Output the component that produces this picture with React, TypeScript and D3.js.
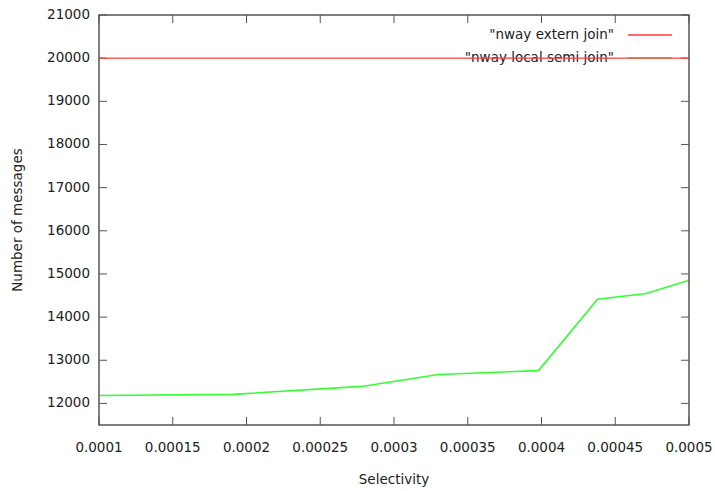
import * as d3 from 'd3';
import { useEffect, useRef } from 'react';

// series
const selectivity = [0.0001, 0.000191, 0.000278, 0.00033, 0.000398, 0.000438, 0.000471, 0.0005];
const localSemiJoin = [12185, 12210, 12394, 12670, 12760, 14413, 14545, 14855];
const externJoin = [20000, 20000];
const externX = [0.0001, 0.0005];

const xTicks = [0.0001, 0.00015, 0.0002, 0.00025, 0.0003, 0.00035, 0.0004, 0.00045, 0.0005];
const yTicks = [12000, 13000, 14000, 15000, 16000, 17000, 18000, 19000, 20000, 21000];

const seriesNames = ['"nway extern join"', '"nway local semi join"'];
const seriesColors = ['#ff3b3b', '#33ff33'];

export default function App() {
  const width = 715;
  const height = 491;
  const margin = { top: 15, right: 26, bottom: 66, left: 99 };
  const ref = useRef<SVGSVGElement>(null);

  useEffect(() => {
    const svg = d3.select(ref.current);
    svg.selectAll('*').remove();

    const x = d3
      .scaleLinear()
      .domain([0.0001, 0.0005])
      .range([margin.left, width - margin.right]);
    const y = d3
      .scaleLinear()
      .domain([11500, 21000])
      .range([height - margin.bottom, margin.top]);

    const font = 'DejaVu Sans, sans-serif';
    const axisColor = '#555';
    const tickLen = 8;

    const g = svg.append('g');

    // ticks on all four sides, pointing inward
    xTicks.forEach((t) => {
      g.append('line')
        .attr('x1', x(t)).attr('x2', x(t))
        .attr('y1', y.range()[0]).attr('y2', y.range()[0] - tickLen)
        .attr('stroke', axisColor);
      g.append('line')
        .attr('x1', x(t)).attr('x2', x(t))
        .attr('y1', y.range()[1]).attr('y2', y.range()[1] + tickLen)
        .attr('stroke', axisColor);
      g.append('text')
        .attr('x', x(t))
        .attr('y', y.range()[0] + 23)
        .attr('text-anchor', 'middle')
        .attr('dominant-baseline', 'middle')
        .attr('font-family', font)
        .attr('font-size', 13.5)
        .attr('fill', '#222')
        .text(String(t));
    });

    yTicks.forEach((t) => {
      g.append('line')
        .attr('x1', x.range()[0]).attr('x2', x.range()[0] + tickLen)
        .attr('y1', y(t)).attr('y2', y(t))
        .attr('stroke', axisColor);
      g.append('line')
        .attr('x1', x.range()[1]).attr('x2', x.range()[1] - tickLen)
        .attr('y1', y(t)).attr('y2', y(t))
        .attr('stroke', axisColor);
      g.append('text')
        .attr('x', x.range()[0] - 9)
        .attr('y', y(t))
        .attr('text-anchor', 'end')
        .attr('dominant-baseline', 'middle')
        .attr('font-family', font)
        .attr('font-size', 13.5)
        .attr('fill', '#222')
        .text(String(t));
    });

    // axis titles
    g.append('text')
      .attr('x', (x.range()[0] + x.range()[1]) / 2)
      .attr('y', 480)
      .attr('text-anchor', 'middle')
      .attr('dominant-baseline', 'middle')
      .attr('font-family', font)
      .attr('font-size', 13.5)
      .attr('fill', '#222')
      .text('Selectivity');

    g.append('text')
      .attr('transform', `translate(18,${(y.range()[0] + y.range()[1]) / 2}) rotate(-90)`)
      .attr('text-anchor', 'middle')
      .attr('dominant-baseline', 'middle')
      .attr('font-family', font)
      .attr('font-size', 13.5)
      .attr('fill', '#222')
      .text('Number of messages');

    // legend
    const legendY = [35, 58];
    seriesNames.forEach((name, i) => {
      g.append('text')
        .attr('x', 614)
        .attr('y', legendY[i])
        .attr('text-anchor', 'end')
        .attr('dominant-baseline', 'middle')
        .attr('font-family', font)
        .attr('font-size', 13.5)
        .attr('fill', '#222')
        .text(name);
      g.append('line')
        .attr('x1', 628).attr('x2', 672)
        .attr('y1', legendY[i]).attr('y2', legendY[i])
        .attr('stroke', seriesColors[i])
        .attr('stroke-width', 1.5);
    });

    const line = d3
      .line<[number, number]>()
      .x((d) => x(d[0]))
      .y((d) => y(d[1]));

    g.append('path')
      .datum(selectivity.map((s, i) => [s, localSemiJoin[i]] as [number, number]))
      .attr('d', line)
      .attr('fill', 'none')
      .attr('stroke', seriesColors[1])
      .attr('stroke-width', 1.6);

    g.append('path')
      .datum(externX.map((s, i) => [s, externJoin[i]] as [number, number]))
      .attr('d', line)
      .attr('fill', 'none')
      .attr('stroke', seriesColors[0])
      .attr('stroke-width', 1.4);

    // frame (top, bottom, left, right)
    g.append('rect')
      .attr('x', x.range()[0])
      .attr('y', y.range()[1])
      .attr('width', x.range()[1] - x.range()[0])
      .attr('height', y.range()[0] - y.range()[1])
      .attr('fill', 'none')
      .attr('stroke', axisColor)
      .attr('stroke-width', 1.5);
  }, []);

  return (
    <svg
      ref={ref}
      width={width}
      height={height}
      style={{ position: 'absolute', left: 0, top: 0, background: '#fff' }}
    />
  );
}
